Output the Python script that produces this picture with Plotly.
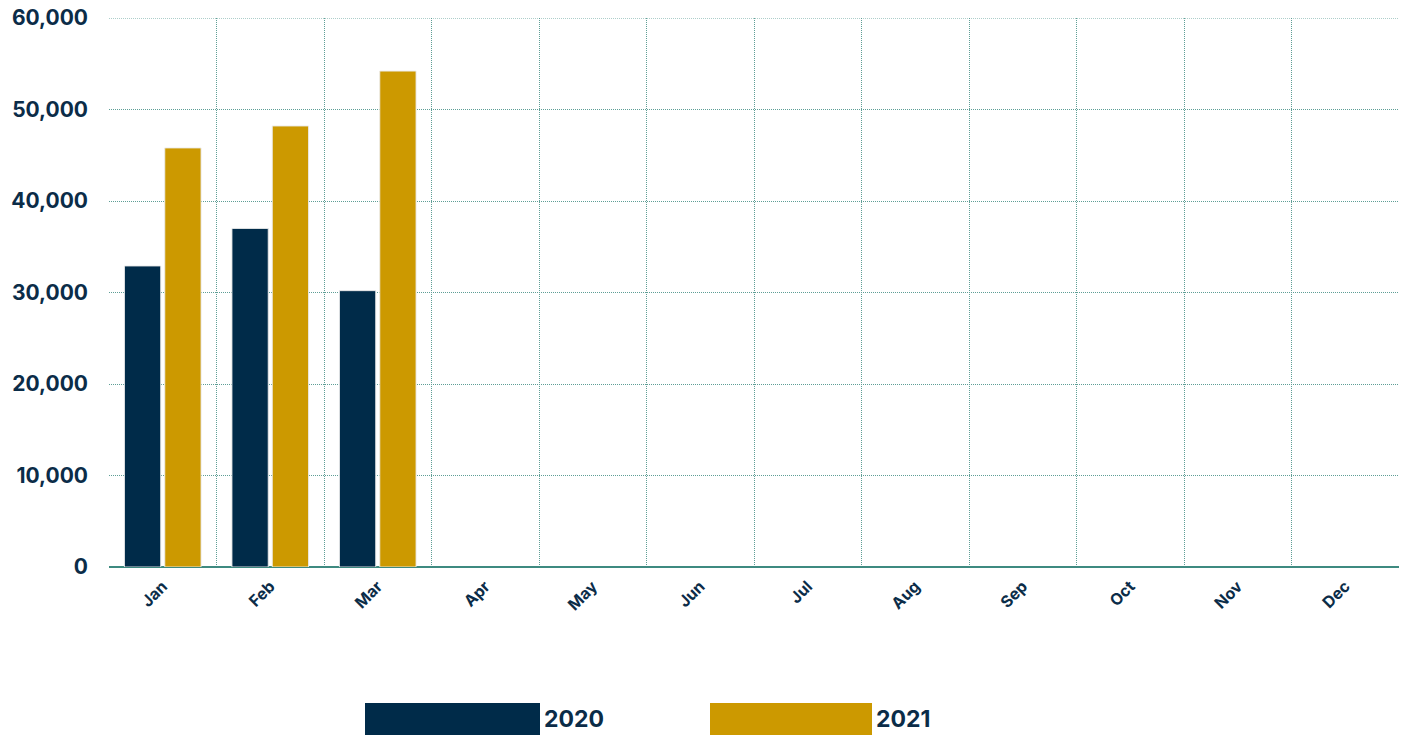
import plotly.graph_objects as go

months = ["Jan", "Feb", "Mar", "Apr", "May", "Jun", "Jul", "Aug", "Sep", "Oct", "Nov", "Dec"]
values_2020 = [32900, 37000, 30200, None, None, None, None, None, None, None, None, None]
values_2021 = [45800, 48200, 54200, None, None, None, None, None, None, None, None, None]
series_names = ["2020", "2021"]
colors = ["#002B49", "#CC9900"]
text_color = "#0B2C48"
grid_color = "#5E9E96"
FONT = "Inter"

W, H = 1403, 735
L, R, T, B = 109, 4, 18, 168
PW = W - L - R
PH = H - T - B

fig = go.Figure()
for name, vals, col in zip(series_names, [values_2020, values_2021], colors):
    fig.add_trace(go.Bar(
        x=months, y=vals, name=name, marker_color=col,
        marker_line=dict(color="rgba(235,235,235,0.9)", width=1),
        showlegend=False,
    ))

fig.update_layout(
    width=W, height=H,
    margin=dict(l=L, r=R, t=T, b=B, autoexpand=False),
    paper_bgcolor="white", plot_bgcolor="white",
    barmode="group", bargap=0.25, bargroupgap=0.1,
    font=dict(family=FONT, color=text_color),
)
fig.update_xaxes(
    categoryorder="array", categoryarray=months, automargin=False,
    tickson="boundaries", showgrid=True, gridcolor=grid_color, griddash="1px,1px", gridwidth=1,
    ticks="", tickangle=-45, ticklabelstandoff=6,
    tickfont=dict(family=FONT, size=16, color=text_color, weight="bold"),
    showline=False,
)
fig.update_yaxes(
    range=[0, 60000], tickmode="array", automargin=False,
    tickvals=[0, 10000, 20000, 30000, 40000, 50000, 60000], tickformat=",",
    showgrid=True, gridcolor=grid_color, griddash="1px,1px", gridwidth=1,
    zeroline=True, zerolinecolor="#3E8A80", zerolinewidth=1.5,
    tickfont=dict(family=FONT, size=21, color=text_color, weight="bold"),
    ticklabelstandoff=20, ticklabeloverflow="allow",
    showline=False,
)
# top border line at 60,000 (dotted, like the gridlines)
fig.add_hline(y=60000, line=dict(color=grid_color, width=1, dash="1px,1px"))

# legend drawn as swatches + labels below the chart (reference pixel positions)
legend_items = [(series_names[0], colors[0], 365, 540), (series_names[1], colors[1], 710, 872)]
for name, col, x0, x1 in legend_items:
    fig.add_shape(type="rect", xref="paper", yref="paper",
                  x0=(x0 - L) / PW, x1=(x1 - L) / PW,
                  y0=(T + PH - 735) / PH, y1=(T + PH - 703) / PH,
                  fillcolor=col, line_width=0, layer="above")
    fig.add_annotation(xref="paper", yref="paper", x=(x1 + 2 - L) / PW,
                       y=(T + PH - 719) / PH, text=name, showarrow=False,
                       xanchor="left", yanchor="middle",
                       font=dict(family=FONT, size=23, color=text_color, weight="bold"))

fig.write_html("out.html", config={"displayModeBar": False},
               post_script="document.body.style.margin='0';")
